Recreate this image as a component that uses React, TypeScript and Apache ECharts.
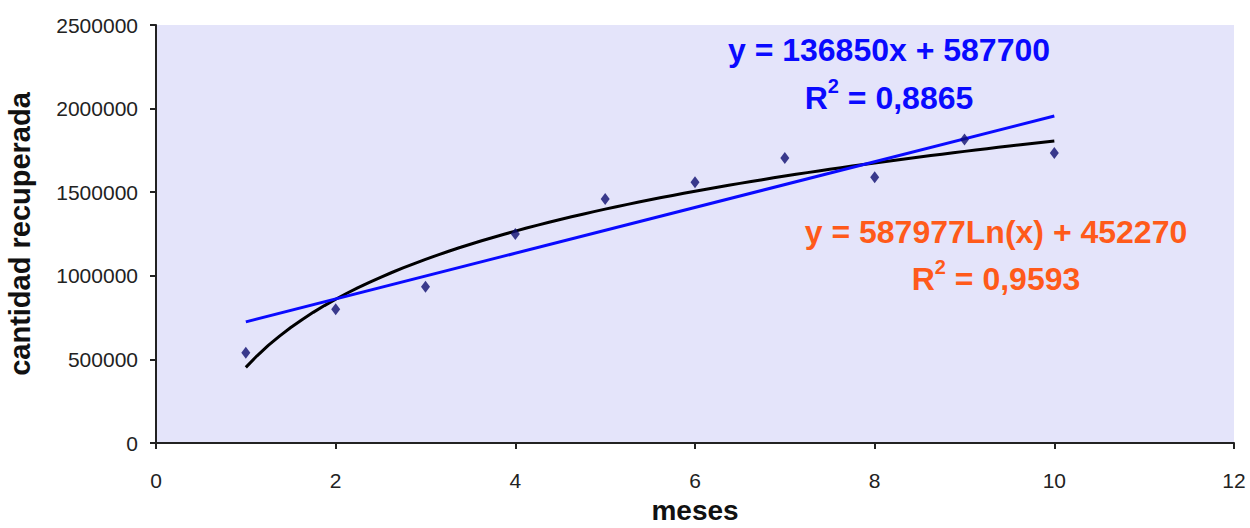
import React, { useEffect, useRef } from "react";
import * as echarts from "echarts";

const months = [1, 2, 3, 4, 5, 6, 7, 8, 9, 10];
const recovered = [540000, 800000, 935000, 1250000, 1460000, 1560000, 1705000, 1590000, 1815000, 1735000];

// trendline coefficients as printed on the chart
const linSlope = 136850;
const linIntercept = 587700;
const logCoef = 587977;
const logIntercept = 452270;
const linLabel = "y = 136850x + 587700";
const linR2 = "0,8865";
const logLabel = "y = 587977Ln(x) + 452270";
const logR2 = "0,9593";

const xTicks = [0, 2, 4, 6, 8, 10, 12];
const yTicks = [0, 500000, 1000000, 1500000, 2000000, 2500000];

const BLUE = "#0A0AFF";
const ORANGE = "#FF5A1A";
const SANS = "'Liberation Sans', Arial, Helvetica, sans-serif";

function r2Text(value: string, color: string, cx: number, cy: number) {
  return {
    type: "text",
    x: cx,
    y: cy,
    style: {
      text: `{b|R}{s|2}{b| = ${value}}`,
      textAlign: "center",
      textVerticalAlign: "middle",
      rich: {
        b: { fontFamily: SANS, fontWeight: "bold", fontSize: 32, lineHeight: 38, fill: color, verticalAlign: "bottom" },
        s: { fontFamily: SANS, fontWeight: "bold", fontSize: 20, lineHeight: 20, fill: color, verticalAlign: "top" },
      },
    },
  };
}

export default function App() {
  const ref = useRef<HTMLDivElement>(null);
  useEffect(() => {
    if (!ref.current) return;
    const chart = echarts.init(ref.current, null, { renderer: "svg" });
    const x0 = months[0];
    const x1 = months[months.length - 1];
    const linData = [
      [x0, linSlope * x0 + linIntercept],
      [x1, linSlope * x1 + linIntercept],
    ];
    const logData: number[][] = [];
    for (let i = 0; i <= 72; i++) {
      const x = x0 + ((x1 - x0) * i) / 72;
      logData.push([x, logCoef * Math.log(x) + logIntercept]);
    }
    chart.setOption({
      animation: false,
      backgroundColor: "#ffffff",
      grid: {
        left: 156,
        right: 16,
        top: 25,
        bottom: 85,
        show: true,
        backgroundColor: "#E4E4FA",
        borderWidth: 0,
        containLabel: false,
        outerBoundsMode: "none",
      },
      xAxis: {
        type: "value",
        min: xTicks[0],
        max: xTicks[xTicks.length - 1],
        interval: 2,
        name: "meses",
        nameLocation: "middle",
        nameGap: 53,
        nameTextStyle: { fontFamily: SANS, fontWeight: "bold", fontSize: 28, color: "#111" },
        axisLine: { lineStyle: { color: "#222", width: 2 } },
        axisTick: { show: true, length: 6, lineStyle: { color: "#222", width: 2 } },
        axisLabel: { fontFamily: SANS, fontSize: 21, color: "#222", margin: 27 },
        splitLine: { show: false },
      },
      yAxis: {
        type: "value",
        min: yTicks[0],
        max: yTicks[yTicks.length - 1],
        interval: 500000,
        name: "cantidad recuperada",
        nameLocation: "middle",
        nameGap: 122,
        nameTextStyle: { fontFamily: SANS, fontWeight: "bold", fontSize: 29, color: "#111" },
        axisLine: { show: true, lineStyle: { color: "#222", width: 2 } },
        axisTick: { show: true, length: 6, lineStyle: { color: "#222", width: 2 } },
        axisLabel: {
          fontFamily: SANS,
          fontSize: 21,
          color: "#222",
          margin: 18,
          formatter: (v: number) => String(v),
        },
        splitLine: { show: false },
      },
      series: [
        {
          type: "line",
          data: logData,
          showSymbol: false,
          lineStyle: { color: "#000000", width: 3 },
          z: 2,
        },
        {
          type: "line",
          data: linData,
          showSymbol: false,
          lineStyle: { color: BLUE, width: 3 },
          z: 3,
        },
        {
          type: "scatter",
          data: months.map((m, i) => [m, recovered[i]]),
          symbol: "diamond",
          symbolSize: [9, 12],
          itemStyle: { color: "#0E0E70" },
          z: 4,
        },
      ],
      graphic: [
        {
          type: "text",
          x: 889,
          y: 50,
          style: {
            text: linLabel,
            textAlign: "center",
            textVerticalAlign: "middle",
            font: `bold 32px ${SANS}`,
            fill: BLUE,
          },
        },
        r2Text(linR2, BLUE, 889, 95),
        {
          type: "text",
          x: 996,
          y: 232,
          style: {
            text: logLabel,
            textAlign: "center",
            textVerticalAlign: "middle",
            font: `bold 32px ${SANS}`,
            fill: ORANGE,
          },
        },
        r2Text(logR2, ORANGE, 996, 276),
      ],
    });
    return () => chart.dispose();
  }, []);
  return (
    <div
      ref={ref}
      style={{ position: "fixed", left: 0, top: 0, width: 1250, height: 528 }}
    />
  );
}
